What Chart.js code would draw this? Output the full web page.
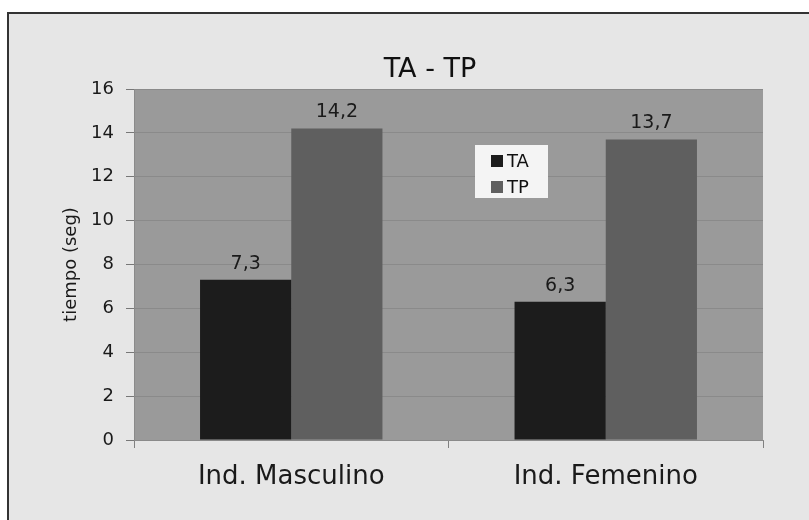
<!DOCTYPE html>
<html>
<head>
<meta charset="utf-8">
<script src="https://cdn.jsdelivr.net/npm/chart.js@4"></script>
<style>
  html, body { margin: 0; padding: 0; background: #fff; }
  #wrap { width: 809px; height: 520px; }
</style>
</head>
<body>
<div id="wrap"><canvas id="chart" width="809" height="520"></canvas></div>
<script>
// TA - TP por indicador
const categories = ['Ind. Masculino', 'Ind. Femenino'];
const seriesNames = ['TA', 'TP'];
const taValues = [7.3, 6.3];
const tpValues = [14.2, 13.7];
const yTicks = [0, 2, 4, 6, 8, 10, 12, 14, 16];
const chartTitle = 'TA - TP';
const yTitle = 'tiempo (seg)';

const colors = ['#1c1c1c', '#5f5f5f'];
const fontName = '"DejaVu Sans", sans-serif';

// background, outer frame and gray plot area
const backPlugin = {
  id: 'back',
  beforeDraw(chart) {
    const ctx = chart.ctx;
    const a = chart.chartArea;
    ctx.save();
    ctx.fillStyle = '#ffffff';
    ctx.fillRect(0, 0, chart.width, chart.height);
    ctx.fillStyle = '#e6e6e6';
    ctx.fillRect(7, 12, chart.width, chart.height);
    ctx.fillStyle = '#333333';
    ctx.fillRect(7, 12, chart.width, 2);
    ctx.fillRect(7, 12, 2, chart.height);
    ctx.fillStyle = '#9a9a9a';
    ctx.fillRect(a.left, a.top, a.right - a.left, a.bottom - a.top);
    ctx.restore();
  }
};

// title, value labels and the little legend box
const textPlugin = {
  id: 'texts',
  afterDatasetsDraw(chart) {
    const ctx = chart.ctx;
    ctx.save();
    ctx.fillStyle = '#1a1a1a';
    ctx.textAlign = 'center';
    ctx.textBaseline = 'alphabetic';
    ctx.font = '19px ' + fontName;
    chart.data.datasets.forEach((ds, i) => {
      const meta = chart.getDatasetMeta(i);
      meta.data.forEach((bar, j) => {
        const txt = String(ds.data[j]).replace('.', ',');
        ctx.fillText(txt, bar.x, bar.y - 11);
      });
    });

    ctx.font = '27px ' + fontName;
    ctx.fillStyle = '#111';
    ctx.fillText(chartTitle, 430, 77);

    // legend
    ctx.fillStyle = '#f4f4f4';
    ctx.fillRect(475, 145, 73, 53);
    ctx.font = '18px ' + fontName;
    ctx.textAlign = 'left';
    ctx.textBaseline = 'middle';
    chart.data.datasets.forEach((ds, i) => {
      const y = 161 + i * 26;
      ctx.fillStyle = ds.backgroundColor;
      ctx.fillRect(491, y - 6, 12, 12);
      ctx.fillStyle = '#111';
      ctx.fillText(ds.label, 507, y + 1);
    });
    ctx.restore();
  }
};

chartIt();

function chartIt(){
  const ctx = document.getElementById('chart').getContext('2d');
  const myChart = new Chart(ctx, {
    type: 'bar',
    data: {
      labels: categories,
      datasets: [{
        label: seriesNames[0],
        data: taValues,
        backgroundColor: colors[0],
        borderWidth: 0
      }, {
        label: seriesNames[1],
        data: tpValues,
        backgroundColor: colors[1],
        borderWidth: 0
      }]
    },
    options: {
      responsive: false,
      animation: false,
      layout: { padding: { left: 57, right: 46, top: 89, bottom: 0 } },
      categoryPercentage: 0.58,
      barPercentage: 1,
      plugins: {
        legend: { display: false },
        title: { display: false },
        tooltip: { enabled: false }
      },
      scales: {
        x: {
          grid: { display: true, drawOnChartArea: false, offset: true, tickLength: 8, color: '#808080' },
          border: { color: '#8a8a8a' },
          ticks: { color: '#1a1a1a', font: { family: fontName, size: 26 }, padding: 14 },
          afterFit(axis) { axis.height = 80; }
        },
        y: {
          min: 0,
          max: 16,
          afterBuildTicks(axis) { axis.ticks = yTicks.map(v => ({ value: v })); },
          grid: { color: '#8a8a8a', tickLength: 8, tickColor: '#777' },
          border: { color: '#8a8a8a' },
          ticks: { color: '#1a1a1a', font: { family: fontName, size: 18 }, padding: 12 },
          title: { display: true, text: yTitle, color: '#1a1a1a', font: { family: fontName, size: 18 } },
          afterFit(axis) { axis.width = 77; }
        }
      }
    },
    plugins: [backPlugin, textPlugin]
  });
}
</script>
</body>
</html>
